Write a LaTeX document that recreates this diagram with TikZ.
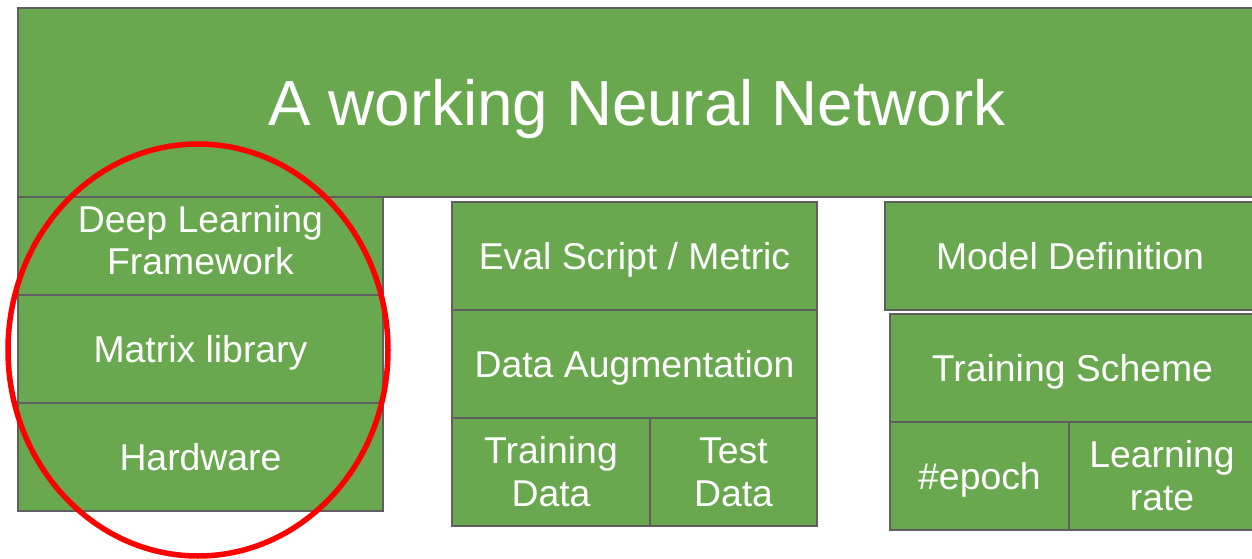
\documentclass[tikz,border=0pt]{standalone}
\usepackage{fontspec}
\setmainfont{Liberation Sans}
\usetikzlibrary{shapes.geometric}
\definecolor{boxgreen}{HTML}{6AA84F}
\definecolor{boxline}{HTML}{5F5F5F}
\definecolor{ringred}{HTML}{FF0000}
\begin{document}
\begin{tikzpicture}[x=1bp,y=-1bp,
  blk/.style={draw=boxline, fill=boxgreen, line width=1.6bp, inner sep=0pt, outer sep=0pt,
    anchor=north west, text=white, align=center, font=\fontsize{37.5}{43}\selectfont},
  one/.style={text depth=0pt},
  ring/.style={draw=ringred, line width=5.5bp}]
\useasboundingbox (0,0) rectangle (1252,559);
% top
\node[blk, one, minimum width=1238bp, minimum height=189bp, font=\fontsize{64}{70}\selectfont] (top) at (18,8) {A working Neural Network};
% left column
\node[blk, text depth=12bp, minimum width=365bp, minimum height=98bp] (dlf) at (18,197) {Deep Learning\\Framework};
\node[blk, one, minimum width=365bp, minimum height=108bp] (mat) at (18,295) {Matrix library};
\node[blk, one, minimum width=365bp, minimum height=108bp] (hw) at (18,403) {Hardware};
% middle column
\node[blk, one, minimum width=365bp, minimum height=108bp] (eval) at (452,202) {Eval Script / Metric};
\node[blk, one, minimum width=365bp, minimum height=108bp] (aug) at (452,310) {Data Augmentation};
\node[blk, minimum width=198bp, minimum height=108bp] (train) at (452,418) {Training\\Data};
\node[blk, minimum width=167bp, minimum height=108bp] (test) at (650,418) {Test\\Data};
% right column
\node[blk, one, minimum width=370bp, minimum height=108bp] (model) at (885,202) {Model Definition};
\node[blk, one, minimum width=365bp, minimum height=108bp] (scheme) at (890,314) {Training Scheme};
\node[blk, one, minimum width=179bp, minimum height=108bp] (epoch) at (890,422) {\#epoch};
\node[blk, minimum width=186bp, minimum height=108bp] (lr) at (1069,422) {Learning\\rate};
% red ring
\node[ring, ellipse, minimum width=380bp, minimum height=412bp, inner sep=0pt] (circ) at (198,350) {};
\end{tikzpicture}
\end{document}
